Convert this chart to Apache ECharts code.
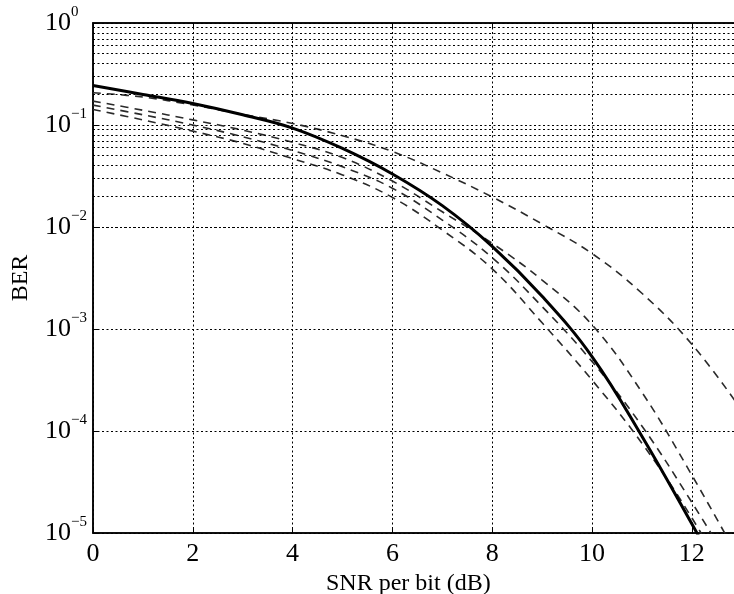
<!DOCTYPE html>
<html><head><meta charset="utf-8">
<script src="https://cdn.jsdelivr.net/npm/echarts@6/dist/echarts.min.js"></script>
<style>html,body{margin:0;padding:0;background:#fff}#c{width:734px;height:594px}</style>
</head><body><div id="c"></div>
<script>
// SNR per bit (dB)
const snr = [0,1,2,3,4,5,6,7,8,9,10,11,12,13];
// solid curve
const berSolid = [0.2438,0.1995,0.1622,0.1259,0.0933,0.0589,0.0331,0.0162,0.00646,0.00209,5.37e-4,8.9e-5,1.23e-5,1.6e-6];
// dashed curves
const berDash1 = [0.207,0.188,0.157,0.127,0.1035,0.0785,0.055,0.0339,0.0197,0.0107,0.0055,0.00224,7.1e-4,1.6e-4];
const berDash2 = [0.1714,0.1396,0.1122,0.0891,0.0676,0.0479,0.0282,0.0141,0.00692,0.00302,0.0011,2.4e-4,3.7e-5,5.0e-6];
const berDash3 = [0.1567,0.1259,0.1,0.0767,0.0562,0.0389,0.024,0.0117,0.00501,0.00166,4.8e-4,1.12e-4,2.0e-5,3.2e-6];
const berDash4 = [0.1419,0.1122,0.0871,0.0661,0.0468,0.0324,0.0195,0.00933,0.00389,0.00115,3.16e-4,7.6e-5,1.41e-5,2.0e-6];
const xTicks = [0,2,4,6,8,10,12];
const yDecades = [1e-5,1e-4,1e-3,1e-2,1e-1,1];

const pair = arr => snr.map((x,i)=>[x,arr[i]]);
const minorVals = [];
for (let d=0; d<yDecades.length-1; d++) for (let m=2;m<=9;m++) minorVals.push(yDecades[d]*m);

const serif = 'Liberation Serif';
const chart = echarts.init(document.getElementById('c'), null, {renderer:'canvas'});
const dashStyle = {color:'#2a2a2a', width:1.6, type:[8,6]};
const gridStyle = {color:'#000', width:1, type:[2,2.5]};
chart.setOption({
  animation:false,
  backgroundColor:'#fff',
  grid:{left:93, top:23, width:648.7, height:510, show:true, borderColor:'#000', borderWidth:1.5, backgroundColor:'transparent', containLabel:false, outerBoundsMode:'none'},
  xAxis:[{
    type:'value', min:0, max:13, interval:2, position:'bottom',
    axisLine:{show:true, onZero:false, lineStyle:{color:'#000', width:1.5}},
    axisTick:{show:true, inside:true, length:5, lineStyle:{color:'#000'}},
    axisLabel:{fontFamily:serif, fontSize:26, color:'#000', margin:8, showMaxLabel:false,
      formatter: v => xTicks.includes(v) ? String(v) : ''},
    splitLine:{show:true, lineStyle:gridStyle},
    name:'SNR per bit (dB)', nameLocation:'middle', nameGap:34,
    nameTextStyle:{fontFamily:serif, fontSize:24, color:'#000', padding:[0,18,0,0]}
  },{
    type:'value', min:0, max:13, interval:2, position:'top',
    axisLine:{show:true, onZero:false, lineStyle:{color:'#000', width:1.5}},
    axisTick:{show:true, inside:true, length:5, lineStyle:{color:'#000'}},
    axisLabel:{show:false}, splitLine:{show:false}
  }],
  yAxis:{
    type:'log', logBase:10, min:1e-5, max:1, splitNumber:5,
    axisLine:{show:true, onZero:false, lineStyle:{color:'#000', width:1.5}},
    axisTick:{show:true, inside:true, length:5, lineStyle:{color:'#000'}},
    splitLine:{show:true, lineStyle:gridStyle},
    axisLabel:{
      align:'left', margin:48,
      formatter: v => { const e = Math.round(Math.log10(v)); return '{b|10}{s|' + (e<0 ? '\u2212'+(-e) : String(e)) + '}'; },
      rich:{
        b:{fontFamily:serif, fontSize:26, color:'#000', lineHeight:36},
        s:{fontFamily:serif, fontSize:15, color:'#000', lineHeight:15, verticalAlign:'top'}
      }
    },
    name:'BER', nameLocation:'middle', nameGap:60,
    nameTextStyle:{fontFamily:serif, fontSize:24, color:'#000'}
  },
  series:[
    {type:'line', name:'minor', data:[], z:1, silent:true,
      markLine:{silent:true, symbol:'none', label:{show:false}, animation:false,
        lineStyle:gridStyle,
        data: minorVals.map(v=>({yAxis:v}))}},
    {type:'line', name:'d1', data:pair(berDash1), showSymbol:false, smooth:0.4, lineStyle:dashStyle, z:3},
    {type:'line', name:'d2', data:pair(berDash2), showSymbol:false, smooth:0.4, lineStyle:dashStyle, z:3},
    {type:'line', name:'d3', data:pair(berDash3), showSymbol:false, smooth:0.4, lineStyle:dashStyle, z:3},
    {type:'line', name:'d4', data:pair(berDash4), showSymbol:false, smooth:0.4, lineStyle:dashStyle, z:3},
    {type:'line', name:'theory', data:pair(berSolid), showSymbol:false, smooth:0.4, lineStyle:{color:'#000', width:3}, z:4}
  ]
});
</script></body></html>
